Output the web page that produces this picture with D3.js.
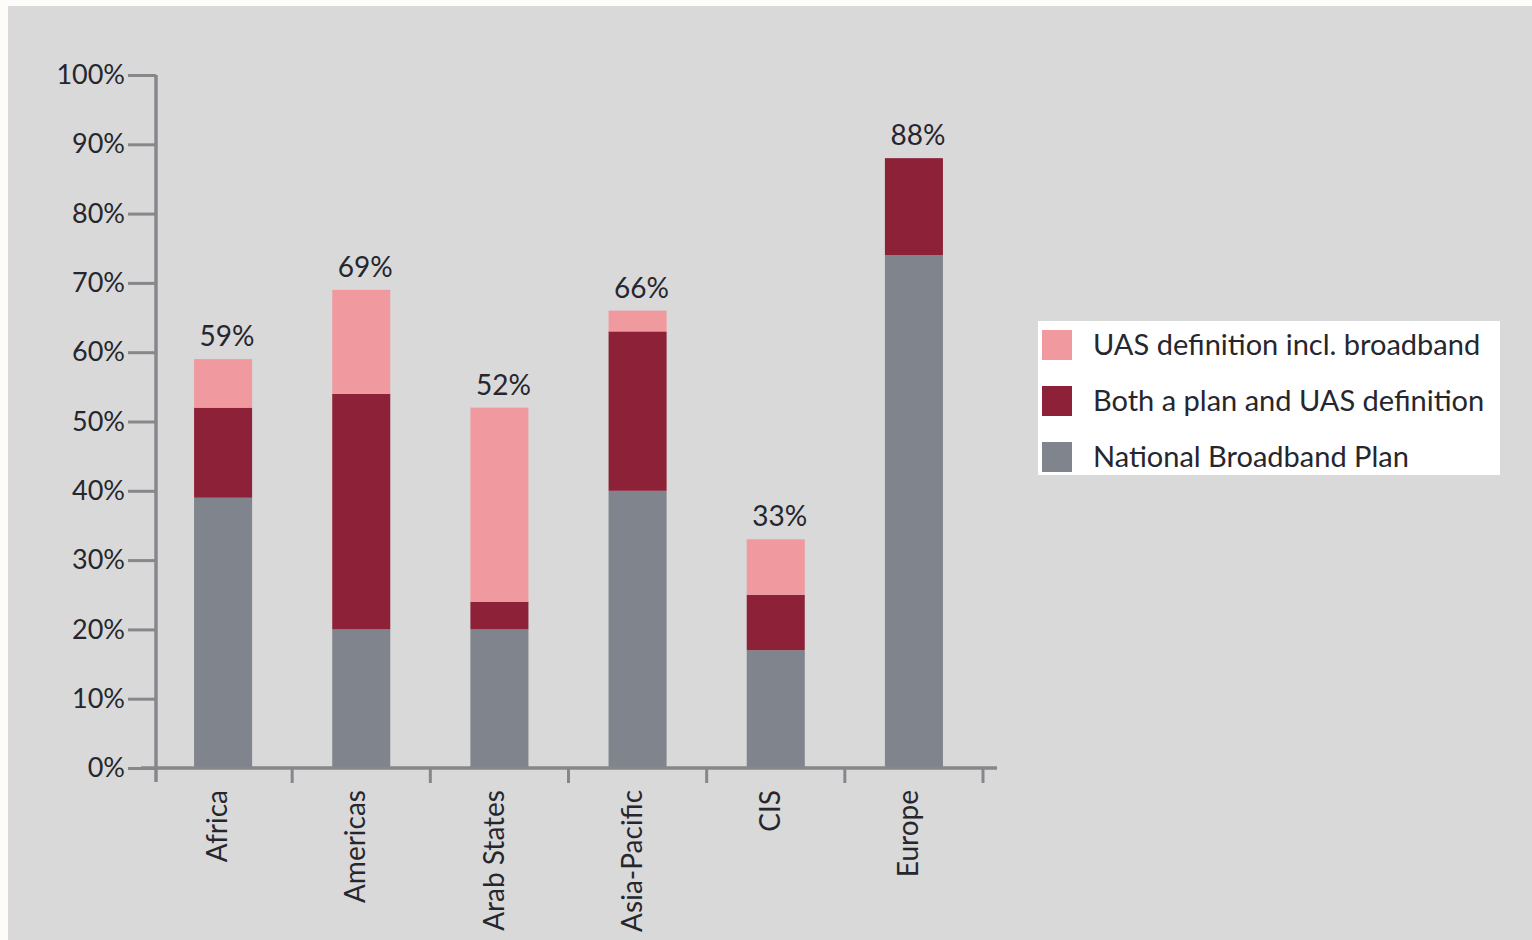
<!DOCTYPE html>
<html>
<head>
<meta charset="utf-8">
<script src="https://cdn.jsdelivr.net/npm/d3@7"></script>
<style>
  html, body { margin: 0; padding: 0; background: #ffffff; }
  svg { display: block; }
  text { font-family: Lato, "Open Sans", sans-serif; }
</style>
</head>
<body>
<svg id="chart" width="1532" height="940"></svg>
<script>
const categories = ["Africa", "Americas", "Arab States", "Asia-Pacific", "CIS", "Europe"];
const nationalPlan = [0.39, 0.20, 0.20, 0.40, 0.17, 0.74];
const bothPlanUAS = [0.13, 0.34, 0.04, 0.23, 0.08, 0.14];
const uasDefinition = [0.07, 0.15, 0.28, 0.03, 0.08, 0.00];
const totalLabels = ["59%", "69%", "52%", "66%", "33%", "88%"];
const seriesNames = ["UAS definition incl. broadband", "Both a plan and UAS definition", "National Broadband Plan"];
const yTicks = [0, 0.1, 0.2, 0.3, 0.4, 0.5, 0.6, 0.7, 0.8, 0.9, 1.0];

const colors = {
  "National Broadband Plan": "#80848c",
  "Both a plan and UAS definition": "#8c2138",
  "UAS definition incl. broadband": "#f09aa0"
};

const svg = d3.select("#chart");
// background
svg.append("rect").attr("x", 0).attr("y", 0).attr("width", 1532).attr("height", 940).attr("fill", "#fdfcf8");
svg.append("rect").attr("x", 8).attr("y", 6).attr("width", 1524).attr("height", 934).attr("fill", "#d9d9d9");

const y = d3.scaleLinear().domain([0, 1]).range([768, 75]);
const x = d3.scaleBand().domain(categories).range([154, 983]).paddingInner(0.58).paddingOuter(0.29);

const rows = categories.map((c, i) => ({
  category: c,
  "National Broadband Plan": nationalPlan[i],
  "Both a plan and UAS definition": bothPlanUAS[i],
  "UAS definition incl. broadband": uasDefinition[i]
}));
const stack = d3.stack().keys(["National Broadband Plan", "Both a plan and UAS definition", "UAS definition incl. broadband"]);
const stacked = stack(rows);

const axisColor = "#85878b";
const textColor = "#26262e";

// bars
svg.append("g").selectAll("g").data(stacked).join("g")
  .attr("fill", d => colors[d.key])
  .selectAll("rect").data(d => d).join("rect")
  .attr("x", d => x(d.data.category))
  .attr("width", x.bandwidth())
  .attr("y", d => y(d[1]))
  .attr("height", d => Math.max(0, y(d[0]) - y(d[1])));

// y axis
const yAxis = svg.append("g").attr("transform", "translate(156,0)")
  .call(d3.axisLeft(y).tickValues(yTicks).tickFormat(d3.format(".0%")).tickSize(28).tickSizeOuter(0).tickPadding(3));
yAxis.select(".domain").attr("stroke", axisColor).attr("stroke-width", 3.5);
yAxis.selectAll(".tick line").attr("stroke", axisColor).attr("stroke-width", 3);
yAxis.selectAll(".tick text").attr("fill", textColor).attr("font-size", 27);
yAxis.select(".domain").attr("d", `M0,${y(1)}V782`);

// x axis line and boundary ticks
const boundaries = d3.range(categories.length + 1).map(i => x.range()[0] + i * x.step());
svg.append("line").attr("x1", 141).attr("x2", 997).attr("y1", y(0)).attr("y2", y(0))
  .attr("stroke", axisColor).attr("stroke-width", 3.5);
svg.append("g").selectAll("line").data(boundaries.slice(1)).join("line")
  .attr("x1", d => d).attr("x2", d => d).attr("y1", y(0)).attr("y2", 783)
  .attr("stroke", axisColor).attr("stroke-width", 3);

// category labels
svg.append("g").selectAll("text").data(categories).join("text")
  .attr("transform", d => `translate(${x(d) + x.bandwidth() / 2 - 6},790) rotate(-90)`)
  .attr("text-anchor", "end")
  .attr("dy", "0.36em")
  .attr("font-size", 28)
  .attr("fill", textColor)
  .text(d => d);

// total labels
svg.append("g").selectAll("text").data(categories).join("text")
  .attr("x", d => x(d) + x.bandwidth() / 2 + 4)
  .attr("y", (d, i) => y(nationalPlan[i] + bothPlanUAS[i] + uasDefinition[i]) - 13)
  .attr("text-anchor", "middle")
  .attr("font-size", 28)
  .attr("fill", textColor)
  .text((d, i) => totalLabels[i]);

// legend
const legend = svg.append("g").attr("transform", "translate(1038,321)");
legend.append("rect").attr("width", 462).attr("height", 154).attr("fill", "#ffffff");
const li = legend.selectAll("g").data(seriesNames).join("g")
  .attr("transform", (d, i) => `translate(0,${24 + i * 56})`);
li.append("rect").attr("x", 4).attr("y", -15).attr("width", 30).attr("height", 30).attr("fill", d => colors[d]);
li.append("text").attr("x", 55).attr("dy", "0.36em").attr("font-size", 29).attr("fill", textColor).text(d => d);
</script>
</body>
</html>
